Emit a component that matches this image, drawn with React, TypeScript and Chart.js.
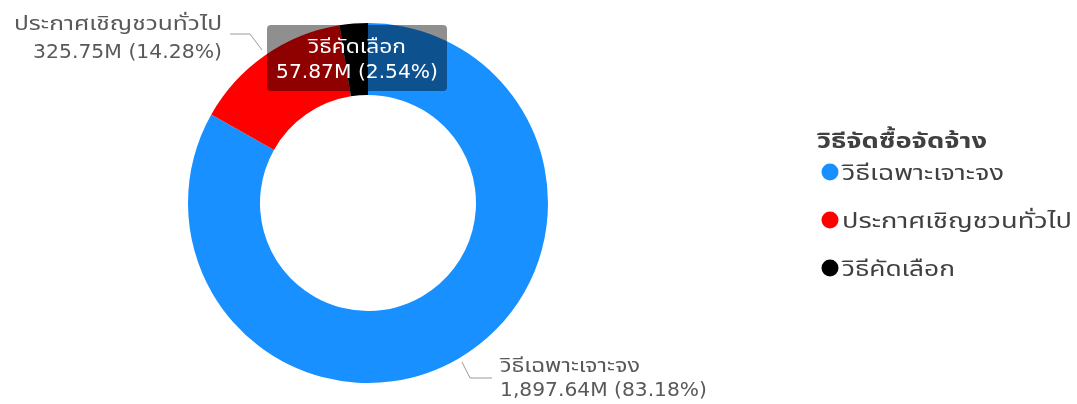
import React, { useEffect, useRef } from "react";
import { Chart, registerables } from "chart.js";

Chart.register(...registerables);

const categories = ["วิธีเฉพาะเจาะจง", "ประกาศเชิญชวนทั่วไป", "วิธีคัดเลือก"];
const values = [1897.64, 325.75, 57.87];
const valueLabels = ["1,897.64M", "325.75M", "57.87M"];
const percentLabels = ["83.18%", "14.28%", "2.54%"];
const colors = ["#1890ff", "#ff0000", "#000000"];
const legendTitle = "วิธีจัดซื้อจัดจ้าง";

const FONT = "'DejaVu Sans', Tahoma, 'Noto Sans Thai', sans-serif";

function fitText(
  ctx: CanvasRenderingContext2D,
  text: string,
  x: number,
  y: number,
  align: CanvasTextAlign,
  targetW: number
) {
  const w = ctx.measureText(text).width || 1;
  const sx = targetW / w;
  ctx.save();
  ctx.translate(x, y);
  ctx.scale(sx, 1);
  ctx.textAlign = align;
  ctx.textBaseline = "alphabetic";
  ctx.fillText(text, 0, 0);
  ctx.restore();
}

const overlayPlugin = {
  id: "overlay",
  afterDraw(chart: any) {
    const ctx = chart.ctx as CanvasRenderingContext2D;
    const arcs = chart.getDatasetMeta(0).data;
    ctx.save();

    const leader = (pts: number[][]) => {
      ctx.strokeStyle = "#9a9a9a";
      ctx.lineWidth = 1;
      ctx.beginPath();
      ctx.moveTo(pts[0][0], pts[0][1]);
      for (let k = 1; k < pts.length; k++) ctx.lineTo(pts[k][0], pts[k][1]);
      ctx.stroke();
    };

    // outside labels
    ctx.font = `19px ${FONT}`;
    if (arcs[1]) {
      leader([[262, 50], [250, 34], [230, 34]]);
      ctx.fillStyle = "#595959";
      fitText(ctx, categories[1], 222, 30, "right", 208);
      fitText(ctx, `${valueLabels[1]} (${percentLabels[1]})`, 222, 58, "right", 189);
    }
    if (arcs[0]) {
      leader([[462, 362], [470, 378], [492, 378]]);
      ctx.fillStyle = "#595959";
      fitText(ctx, categories[0], 500, 372, "left", 140);
      fitText(ctx, `${valueLabels[0]} (${percentLabels[0]})`, 500, 396, "left", 207);
    }

    // tooltip on the small slice
    if (arcs[2]) {
      const x = 267, y = 25, w = 180, h = 66;
      ctx.fillStyle = "rgba(0,0,0,0.44)";
      ctx.beginPath();
      ctx.roundRect(x, y, w, h, 4);
      ctx.fill();
      ctx.fillStyle = "#ffffff";
      fitText(ctx, categories[2], x + w / 2, 53, "center", 98);
      fitText(ctx, `${valueLabels[2]} (${percentLabels[2]})`, x + w / 2, 78, "center", 162);
    }

    // legend
    ctx.fillStyle = "#404040";
    ctx.font = `bold 21px ${FONT}`;
    fitText(ctx, legendTitle, 817, 148, "left", 170);
    ctx.font = `21px ${FONT}`;
    const widths = [162, 230, 113];
    categories.forEach((c, i) => {
      const base = 180 + i * 48;
      ctx.fillStyle = colors[i];
      ctx.beginPath();
      ctx.arc(830, base - 8, 8.5, 0, Math.PI * 2);
      ctx.fill();
      ctx.fillStyle = "#404040";
      fitText(ctx, c, 842, base, "left", widths[i]);
    });
    ctx.restore();
  },
};

export default function App() {
  const ref = useRef<HTMLCanvasElement>(null);
  useEffect(() => {
    if (!ref.current) return;
    const chart = new Chart(ref.current, {
      type: "doughnut",
      data: {
        labels: categories,
        datasets: [
          {
            data: values,
            backgroundColor: colors,
            borderWidth: 0,
          },
        ],
      },
      options: {
        responsive: false,
        animation: false,
        cutout: "60%",
        layout: { padding: { left: 188, right: 529, top: 23, bottom: 21 } },
        plugins: {
          legend: { display: false },
          tooltip: { enabled: false },
        },
      },
      plugins: [overlayPlugin],
    });
    return () => chart.destroy();
  }, []);
  return (
    <div style={{ position: "absolute", left: 0, top: 0, width: 1077, height: 404, background: "#fff" }}>
      <canvas ref={ref} width={1077} height={404} />
    </div>
  );
}
